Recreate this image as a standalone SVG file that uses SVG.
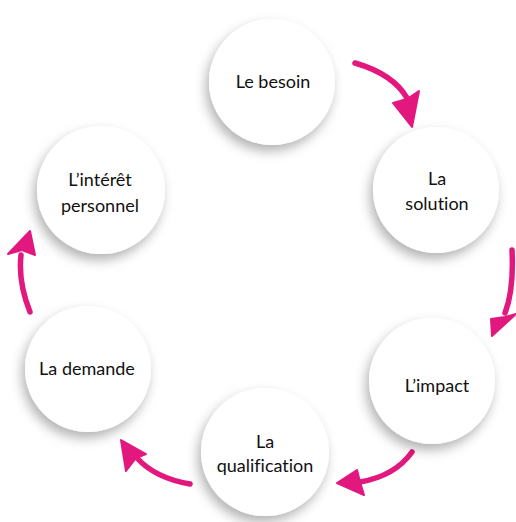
<svg xmlns="http://www.w3.org/2000/svg" width="516" height="522" viewBox="0 0 516 522">
<defs>
<filter id="sh" x="-30%" y="-30%" width="160%" height="170%">
<feDropShadow dx="-3" dy="6" stdDeviation="6" flood-color="#000" flood-opacity="0.3"/>
</filter>
<style>
.c{fill:#fff;filter:url(#sh)}
.t{font-family:Lato,"Open Sans",sans-serif;font-size:18px;fill:#111;text-anchor:middle;font-variant-ligatures:none}
.s{fill:none;stroke:#e2187e;stroke-width:5.5;stroke-linecap:round}
.h{fill:#e2187e;stroke:#e2187e;stroke-width:2;stroke-linejoin:round}
</style>
</defs>
<rect width="516" height="522" fill="#fff"/>
<g id="connectors">
<path class="s" d="M355,63 Q393,74 407,98"/>
<polygon class="h" points="393,103 412,127 419,91 407,99"/>
<path class="s" d="M512,250 Q514,290 505,313"/>
<polygon class="h" points="491,319 492,336 516,314 505,317"/>
<path class="s" d="M412,452 Q395,476 360,482"/>
<polygon class="h" points="357,470 337,483 364,495 360,482"/>
<path class="s" d="M190,484 Q155,478 137,458"/>
<polygon class="h" points="146,454 121,440 126,471 136,458"/>
<path class="s" d="M30,312 Q18,282 21,255"/>
<polygon class="h" points="8,254 30,231 35,255 22,250"/>
</g>
<g id="n1"><circle class="c" cx="272" cy="82" r="63"/><text class="t" x="273" y="88">Le besoin</text></g>
<g id="n2"><circle class="c" cx="436" cy="190" r="63"/><text class="t" x="437" y="185">La</text><text class="t" x="437" y="210">solution</text></g>
<g id="n3"><circle class="c" cx="432" cy="381" r="63"/><text class="t" x="437" y="392">L’impact</text></g>
<g id="n4"><circle class="c" cx="265" cy="452" r="64"/><text class="t" x="265" y="448">La</text><text class="t" x="265" y="472">qualification</text></g>
<g id="n5"><circle class="c" cx="88" cy="369" r="63"/><text class="t" x="87" y="375">La demande</text></g>
<g id="n6"><circle class="c" cx="101" cy="190" r="64"/><text class="t" x="100" y="186">L’intérêt</text><text class="t" x="100" y="212">personnel</text></g>
</svg>
